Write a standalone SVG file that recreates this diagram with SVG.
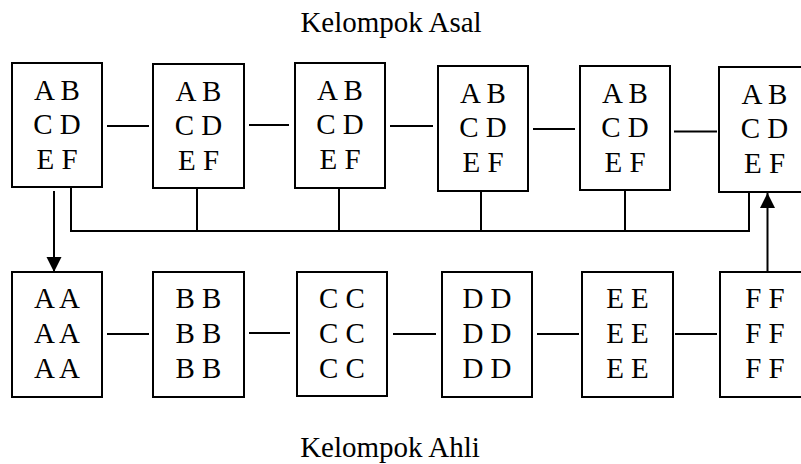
<svg xmlns="http://www.w3.org/2000/svg" width="801" height="464" viewBox="0 0 801 464">
<style>
.box{fill:#fff;stroke:#000;stroke-width:2}
.t{font-family:'Liberation Serif','Times New Roman',serif;font-size:29px;fill:#000;text-anchor:middle}
.c{stroke:#000;stroke-width:2;fill:none}
</style>
<defs>
<marker id="ah" markerUnits="userSpaceOnUse" markerWidth="16" markerHeight="16" viewBox="0 0 16 16" refX="15" refY="8" orient="auto">
<path d="M0,0.5 L15,8 L0,15.5 Z" fill="#000"/>
</marker>
</defs>
<rect width="801" height="464" fill="#fff"/>
<text class="t" x="391" y="32">Kelompok Asal</text>
<text class="t" x="390" y="457">Kelompok Ahli</text>
<g id="connectors">
<line class="c" x1="107" y1="126" x2="149" y2="126"/>
<line class="c" x1="249" y1="125" x2="289" y2="125"/>
<line class="c" x1="390" y1="126" x2="433" y2="126"/>
<line class="c" x1="533" y1="129" x2="575" y2="129"/>
<line class="c" x1="674" y1="131.5" x2="717" y2="131.5"/>
<line class="c" x1="107" y1="334" x2="149" y2="334"/>
<line class="c" x1="249" y1="333" x2="290" y2="333"/>
<line class="c" x1="393" y1="334" x2="436" y2="334"/>
<line class="c" x1="537" y1="334" x2="579" y2="334"/>
<line class="c" x1="675" y1="334" x2="717" y2="334"/>
<polyline class="c" points="71,188 71,231 749,231 749,192"/>
<line class="c" x1="197" y1="188" x2="197" y2="231"/>
<line class="c" x1="339" y1="188" x2="339" y2="232"/>
<line class="c" x1="481" y1="191" x2="481" y2="232"/>
<line class="c" x1="625" y1="190" x2="625" y2="231"/>
<line class="c" x1="54" y1="191" x2="54" y2="272" marker-end="url(#ah)"/>
<line class="c" x1="767.5" y1="272" x2="767.5" y2="193" marker-end="url(#ah)"/>
</g>
<g id="asal1"><rect class="box" x="12" y="63" width="90" height="124"/><text class="t" x="57" y="100">A B</text><text class="t" x="57" y="134">C D</text><text class="t" x="57" y="169">E F</text></g>
<g id="asal2"><rect class="box" x="153" y="64" width="91" height="124"/><text class="t" x="198.5" y="101">A B</text><text class="t" x="198.5" y="135">C D</text><text class="t" x="198.5" y="170">E F</text></g>
<g id="asal3"><rect class="box" x="295" y="63" width="90" height="125"/><text class="t" x="340" y="100">A B</text><text class="t" x="340" y="134">C D</text><text class="t" x="340" y="169">E F</text></g>
<g id="asal4"><rect class="box" x="438" y="66" width="90" height="125"/><text class="t" x="483" y="103">A B</text><text class="t" x="483" y="137">C D</text><text class="t" x="483" y="172">E F</text></g>
<g id="asal5"><rect class="box" x="580" y="66" width="90" height="124"/><text class="t" x="625" y="103">A B</text><text class="t" x="625" y="137">C D</text><text class="t" x="625" y="172">E F</text></g>
<g id="asal6"><rect class="box" x="719" y="67" width="90" height="125"/><text class="t" x="764.5" y="103.5">A B</text><text class="t" x="764.5" y="138">C D</text><text class="t" x="764.5" y="172.5">E F</text></g>
<g id="ahliA"><rect class="box" x="12" y="272" width="90" height="125"/><text class="t" x="57" y="308">A A</text><text class="t" x="57" y="343">A A</text><text class="t" x="57" y="378">A A</text></g>
<g id="ahliB"><rect class="box" x="153" y="272" width="91" height="125"/><text class="t" x="198.5" y="308">B B</text><text class="t" x="198.5" y="343">B B</text><text class="t" x="198.5" y="378">B B</text></g>
<g id="ahliC"><rect class="box" x="297" y="272" width="90" height="124"/><text class="t" x="342" y="308">C C</text><text class="t" x="342" y="343">C C</text><text class="t" x="342" y="378">C C</text></g>
<g id="ahliD"><rect class="box" x="442" y="272" width="90" height="125"/><text class="t" x="487" y="308">D D</text><text class="t" x="487" y="343">D D</text><text class="t" x="487" y="378">D D</text></g>
<g id="ahliE"><rect class="box" x="582" y="272" width="91" height="125"/><text class="t" x="627.5" y="308">E E</text><text class="t" x="627.5" y="343">E E</text><text class="t" x="627.5" y="378">E E</text></g>
<g id="ahliF"><rect class="box" x="720" y="272" width="90" height="125"/><text class="t" x="765" y="308">F F</text><text class="t" x="765" y="343">F F</text><text class="t" x="765" y="378">F F</text></g>
</svg>
